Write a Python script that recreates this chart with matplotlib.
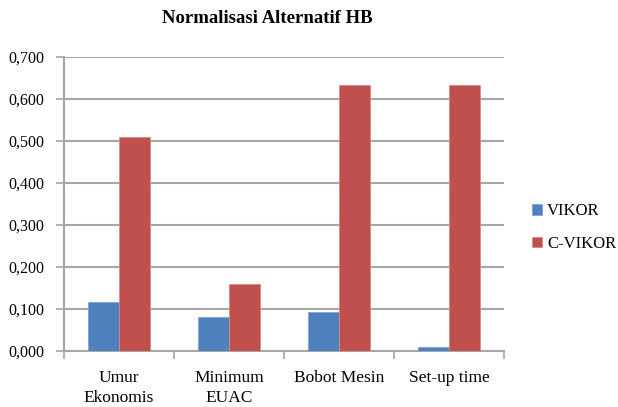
import numpy as np
import matplotlib.pyplot as plt
from matplotlib.ticker import FuncFormatter, FixedLocator

plt.rcParams['font.family'] = ['Liberation Serif', 'DejaVu Serif']

# data
kriteria = ["Umur\nEkonomis", "Minimum\nEUAC", "Bobot Mesin", "Set-up time"]
vikor = [0.117, 0.081, 0.093, 0.010]
c_vikor = [0.510, 0.160, 0.633, 0.633]

BLUE = "#4F81BD"
RED = "#C0504D"
GRID = "#A6A6A6"

fig = plt.figure(figsize=(6.18, 4.07), dpi=100)
ax = fig.add_axes([0.1036, 0.1376, 0.712, 0.7224])

x = np.arange(len(kriteria))
w = 0.28
ax.bar(x - w / 2, vikor, w, color=BLUE, edgecolor="#7FA3D0", linewidth=0.6,
       label="VIKOR", zorder=3)
ax.bar(x + w / 2, c_vikor, w, color=RED, edgecolor="#D98A88", linewidth=0.6,
       label="C-VIKOR", zorder=3)

ax.set_xlim(-0.5, len(kriteria) - 0.5)
ax.set_ylim(0, 0.7)
ax.set_yticks(np.arange(0, 0.71, 0.1))
ax.yaxis.set_major_formatter(FuncFormatter(lambda v, p: f"{v:.3f}".replace(".", ",")))

# category labels centred, ticks on category boundaries
ax.set_xticks(x)
ax.set_xticklabels(kriteria, fontsize=12.5, linespacing=1.3)
ax.tick_params(axis="x", length=0, pad=14)
ax.xaxis.set_minor_locator(FixedLocator(np.arange(-0.5, len(kriteria), 1.0)))
ax.tick_params(axis="x", which="minor", length=6, width=1.2, color=GRID)
ax.tick_params(axis="y", length=6, width=1.2, color=GRID, labelsize=11.5, pad=8)

ax.grid(axis="y", color=GRID, linewidth=1.5, zorder=0)
for side in ["top", "right"]:
    ax.spines[side].set_visible(False)
for side in ["left", "bottom"]:
    ax.spines[side].set_color(GRID)
    ax.spines[side].set_linewidth(1.5)

fig.text(0.432, 0.955, "Normalisasi Alternatif HB", fontsize=13.5,
         fontweight="bold", ha="center", va="center")

ax.legend(loc="center left", bbox_to_anchor=(1.03, 0.42), frameon=False,
          fontsize=12, handlelength=0.6, handleheight=0.6, handletextpad=0.3,
          labelspacing=1.0)

fig.savefig("out.png", dpi=100)
